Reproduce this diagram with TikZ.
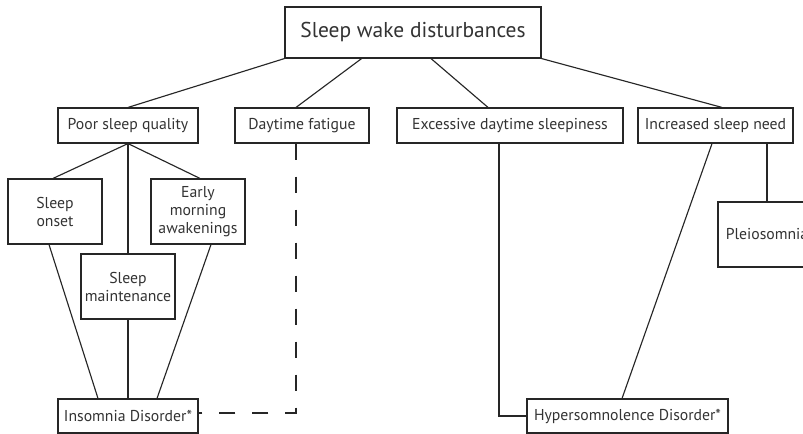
\documentclass[tikz,border=0pt]{standalone}
\usepackage{fontspec}
\setmainfont{PT Sans}
\usetikzlibrary{calc}
\definecolor{ink}{HTML}{262626}
\definecolor{txt}{HTML}{333333}
\begin{document}
\begin{tikzpicture}[x=0.75pt,y=-0.75pt,
  box/.style={draw=ink, line width=0.85pt, inner sep=0pt, align=center,
    font=\fontsize{11.8}{13.5}\selectfont, text=txt},
  conn/.style={draw=ink, line width=0.85pt},
  dashconn/.style={conn, dash pattern=on 12pt off 12.75pt, dash phase=0pt}]
\useasboundingbox (0,0) rectangle (803,434);
\clip (0,0) rectangle (803,434);
\fill[white] (0,0) rectangle (803,434);
% nodes
\node[box, minimum width={256*0.75pt}, minimum height={51*0.75pt}, font=\fontsize{16.1}{19}\selectfont] (top) at (413,32.5) {Sleep wake disturbances};
\node[box, minimum width={140*0.75pt}, minimum height={35*0.75pt}] (poor) at (128,125.5) {Poor sleep quality};
\node[box, minimum width={134*0.75pt}, minimum height={35*0.75pt}] (fatigue) at (302,125.5) {Daytime fatigue};
\node[box, minimum width={226*0.75pt}, minimum height={35*0.75pt}] (eds) at (510,125.5) {Excessive daytime sleepiness};
\node[box, minimum width={155*0.75pt}, minimum height={35*0.75pt}] (isn) at (715.5,125.5) {Increased sleep need};
\node[box, minimum width={98*0.75pt}, minimum height={65*0.75pt}] (pleio) at (767,234.5) {Pleiosomnia};
\node[box, minimum width={94*0.75pt}, minimum height={65*0.75pt}] (onset) at (55,211.5) {Sleep\\onset};
\node[box, minimum width={94*0.75pt}, minimum height={65*0.75pt}] (ema) at (198,211.5) {Early\\morning\\awakenings};
\node[box, minimum width={94*0.75pt}, minimum height={65*0.75pt}] (maint) at (128,286.5) {Sleep\\maintenance};
\node[box, minimum width={140*0.75pt}, minimum height={34*0.75pt}] (ins) at (128,416) {Insomnia Disorder*};
\node[box, minimum width={201*0.75pt}, minimum height={34*0.75pt}] (hyp) at (627.5,416) {Hypersomnolence Disorder*};
% connectors
\draw[conn] (top.south west) -- (poor.north);
\draw[conn] ($(top.south west)!0.3!(top.south east)$) -- ([xshift=-4.5pt]fatigue.north);
\draw[conn] ($(top.south west)!0.57!(top.south east)$) -- ([xshift=-16.5pt]eds.north);
\draw[conn] (top.south east) -- ([xshift=4.9pt]isn.north);
\draw[conn] (poor.south) -- ([xshift=-1.5pt]onset.north);
\draw[conn] (poor.south) -- ([xshift=1.5pt]ema.north);
\draw[conn] (poor.south) -- (maint.north);
\draw[conn] ([xshift=-4.5pt]onset.south) -- ([xshift=-22.5pt]ins.north);
\draw[conn] (maint.south) -- (ins.north);
\draw[conn] ([xshift=9.75pt]ema.south) -- ([xshift=21.75pt]ins.north);
\draw[dashconn] ([xshift=-4.5pt]fatigue.south) |- ([yshift=2.25pt]ins.east);
\draw[conn] ([xshift=-8.25pt]eds.south) |- (hyp.west);
\draw[conn] ([xshift=-2.6pt]isn.south) -- ([xshift=-4.1pt]hyp.north);
\draw[conn] (pleio.north |- isn.south) -- (pleio.north);
\end{tikzpicture}
\end{document}
